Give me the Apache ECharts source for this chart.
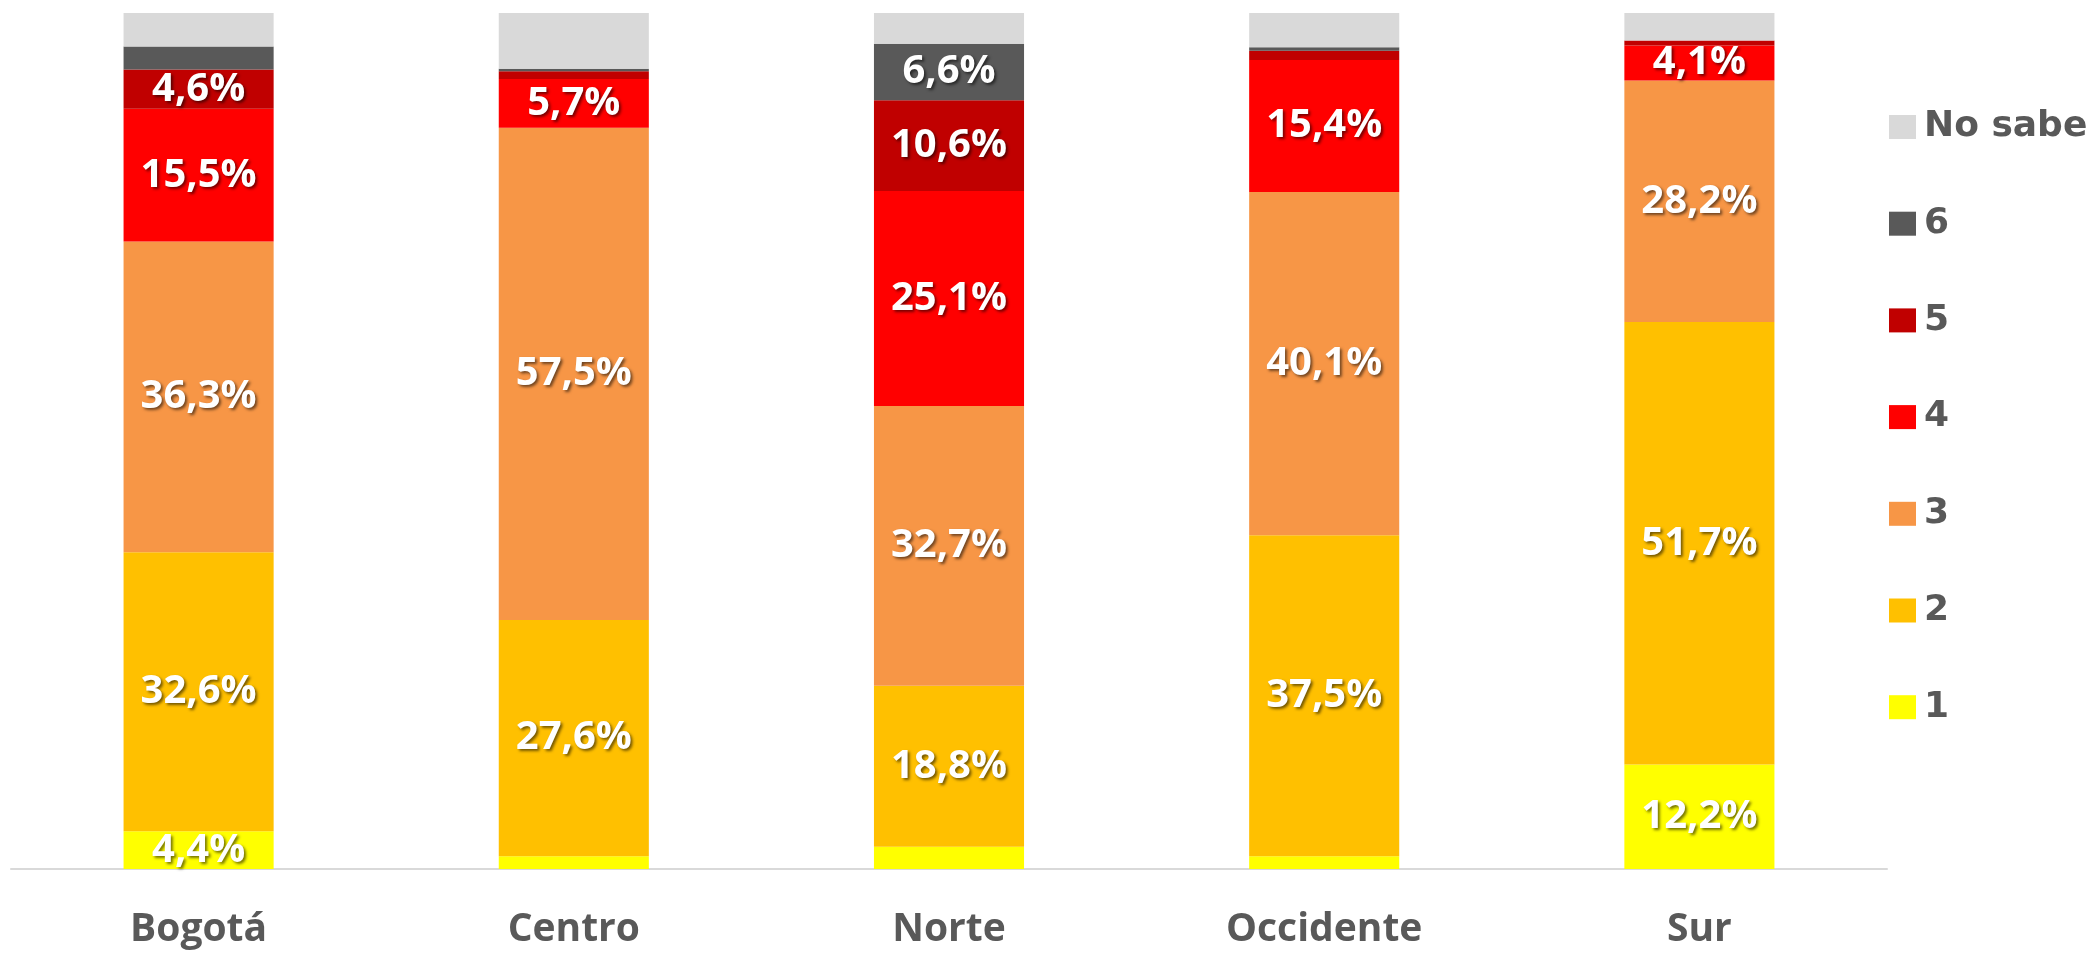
<!DOCTYPE html>
<html>
<head>
<meta charset="utf-8">
<script src="https://cdn.jsdelivr.net/npm/echarts@6/dist/echarts.min.js"></script>
<style>
    html, body { margin: 0; padding: 0; background: #fff; }
    #chart { width: 2087px; height: 956px; }
</style>
</head>
<body>
<div id="chart"></div>
<script>
var categories = ['Bogotá', 'Centro', 'Norte', 'Occidente', 'Sur'];
var estrato1 = [4.4, 1.5, 2.6, 1.5, 12.2];
var estrato2 = [32.6, 27.6, 18.8, 37.5, 51.7];
var estrato3 = [36.3, 57.5, 32.7, 40.1, 28.2];
var estrato4 = [15.5, 5.7, 25.1, 15.4, 4.1];
var estrato5 = [4.6, 0.9, 10.6, 1.1, 0.6];
var estrato6 = [2.7, 0.3, 6.6, 0.4, 0];
var noSabe = [3.9, 6.5, 3.6, 4.0, 3.2];

var seriesNames = ['1', '2', '3', '4', '5', '6', 'No sabe'];
var seriesData = [estrato1, estrato2, estrato3, estrato4, estrato5, estrato6, noSabe];
var colors = ['#ffff00', '#ffc000', '#f79646', '#ff0000', '#c00000', '#595959', '#d9d9d9'];

// etiquetas solo en los segmentos grandes
function etiqueta(p) {
    if (p.value < 4) return '';
    return p.value.toFixed(1).replace('.', ',') + '%';
}

var series = [];
for (var i = 0; i < seriesNames.length; i++) {
    series.push({
        name: seriesNames[i],
        type: 'bar',
        stack: 'total',
        barWidth: '40%',
        data: seriesData[i],
        itemStyle: { color: colors[i] },
        label: {
            show: seriesNames[i] !== 'No sabe',
            position: 'inside',
            formatter: etiqueta,
            color: '#ffffff',
            fontFamily: 'Open Sans',
            fontWeight: 'bold',
            fontSize: 40,
            textShadowColor: 'rgba(0,0,0,0.55)',
            textShadowBlur: 3,
            textShadowOffsetX: 2,
            textShadowOffsetY: 2
        }
    });
}

var option = {
    animation: false,
    grid: { left: 11, right: 200, top: 13, bottom: 87 },
    legend: {
        orient: 'vertical',
        left: 1884,
        top: 104,
        data: ['No sabe', '6', '5', '4', '3', '2', '1'],
        icon: 'rect',
        itemWidth: 27,
        itemHeight: 24,
        itemGap: 60.7,
        textStyle: {
            color: '#595959',
            fontFamily: 'DejaVu Sans',
            fontWeight: 'bold',
            fontSize: 36,
            padding: [0, 0, 0, 3]
        }
    },
    xAxis: {
        type: 'category',
        data: categories,
        axisLine: { lineStyle: { color: '#d9d9d9', width: 2 } },
        axisTick: { show: false },
        axisLabel: {
            margin: 41,
            color: '#595959',
            fontFamily: 'Open Sans',
            fontWeight: 'bold',
            fontSize: 39
        }
    },
    yAxis: {
        type: 'value',
        min: 0,
        max: 100,
        show: false
    },
    series: series
};
echarts.init(document.getElementById('chart')).setOption(option);
</script>
</body>
</html>
